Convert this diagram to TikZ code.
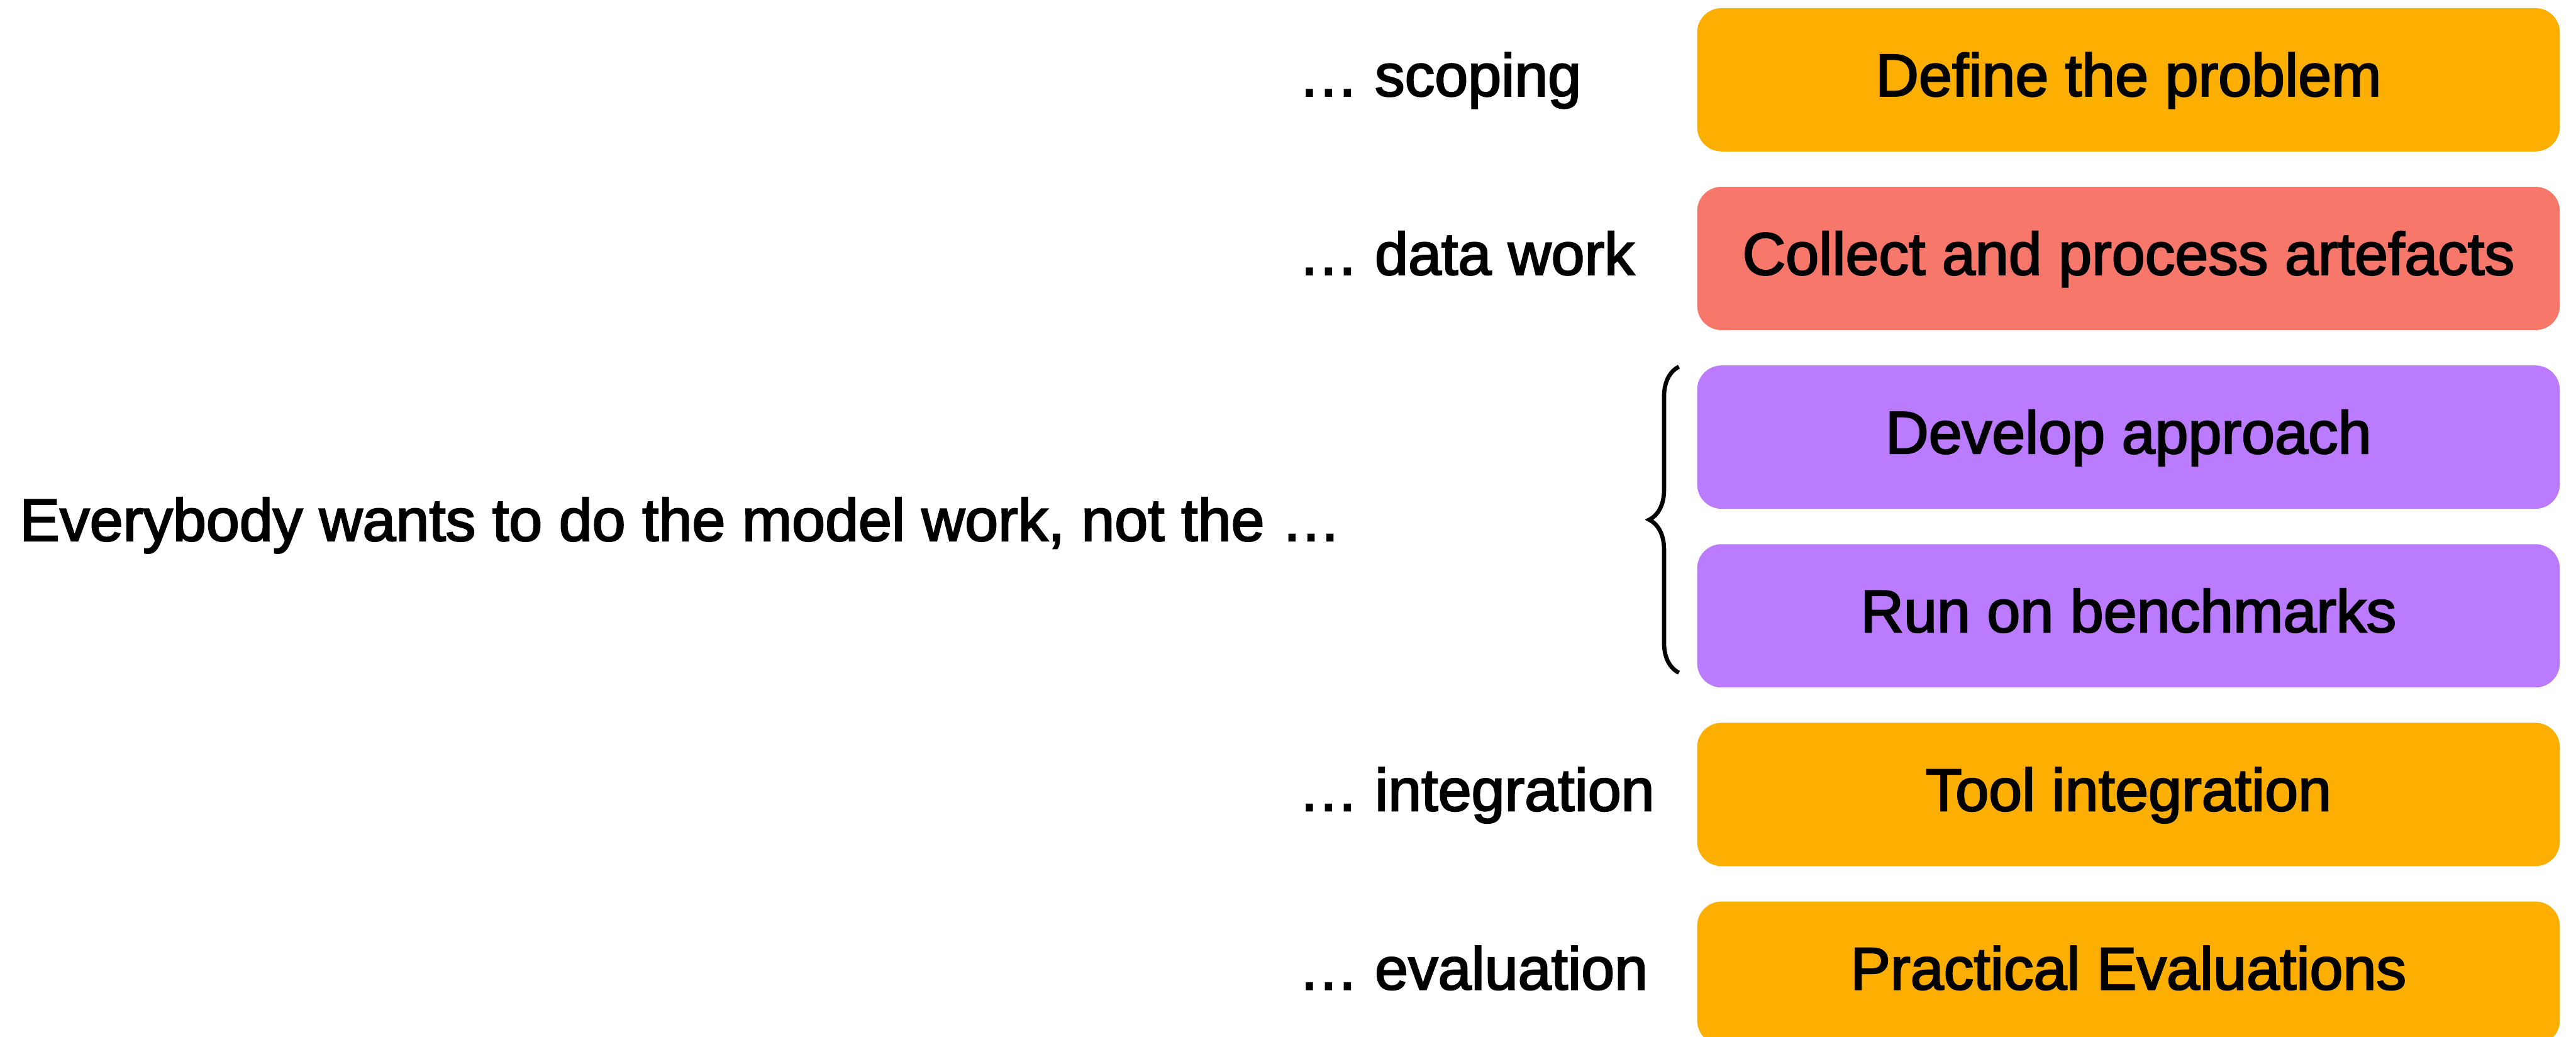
\documentclass[tikz,border=0pt]{standalone}
\usepackage{fontspec}
\setmainfont[FakeBold=2.5]{Liberation Sans}
\usetikzlibrary{positioning,calc,decorations.pathreplacing}

\definecolor{taskgold}{HTML}{FCAF00}
\definecolor{tasksalmon}{HTML}{F7786B}
\definecolor{taskviolet}{HTML}{BA7BFE}

\begin{document}
\begin{tikzpicture}[font=\fontsize{31.5}{38}\selectfont,
  task/.style={rounded corners=0.45cm, minimum width=15.95cm, minimum height=2.65cm,
    inner sep=0pt, text height=0.8cm, text depth=0.2cm},
  lbl/.style={anchor=west, inner sep=0pt, text height=0.8cm, text depth=0.2cm},
  brc/.style={decorate, decoration={brace, amplitude=0.55cm}, line width=2.2pt}]
  \useasboundingbox (0,0) rectangle (47.63,-19.17);

  % pipeline steps
  \node[task, fill=taskgold] (define) at (39.355,-1.475) {Define the problem};
  \node[task, fill=tasksalmon, below=0.64cm of define] (collect) {Collect and process artefacts};
  \node[task, fill=taskviolet, below=0.64cm of collect] (develop) {Develop approach};
  \node[task, fill=taskviolet, below=0.64cm of develop] (bench) {Run on benchmarks};
  \node[task, fill=taskgold, below=0.64cm of bench] (tool) {Tool integration};
  \node[task, fill=taskgold, below=0.64cm of tool] (practical) {Practical Evaluations};

  % what nobody wants to do
  \node[lbl] (scoping) at (24.0,0 |- define) {… scoping};
  \node[lbl] (datawork) at (24.0,0 |- collect) {… data work};
  \node[lbl] (integ) at (24.0,0 |- tool) {… integration};
  \node[lbl] (evalu) at (24.0,0 |- practical) {… evaluation};

  \node[lbl] (everybody) at (0.36,-9.70) {Everybody wants to do the model work, not the …};

  % model work brace
  \coordinate (btop) at ($(develop.north west)+(-0.33,-0.03)$);
  \coordinate (bbot) at ($(bench.south west)+(-0.33,0.28)$);
  \draw[brc] (bbot) -- (btop);
\end{tikzpicture}
\end{document}
